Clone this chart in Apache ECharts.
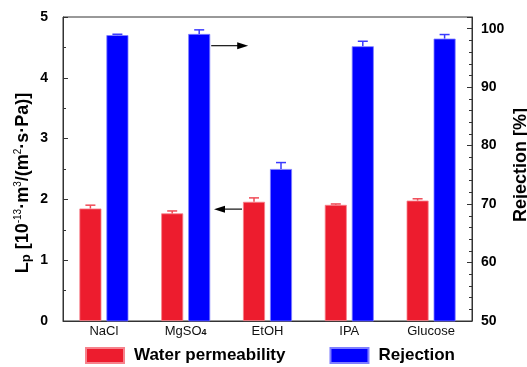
<!DOCTYPE html>
<html>
<head>
<meta charset="utf-8">
<script src="https://cdn.jsdelivr.net/npm/echarts@6/dist/echarts.min.js"></script>
<style>html,body{margin:0;padding:0;background:#fff}#c{width:527px;height:367px}</style>
</head>
<body>
<div id="c"></div>
<script>
var categories = ['NaCl', 'MgSO4', 'EtOH', 'IPA', 'Glucose'];
var permeability = [1.85, 1.77, 1.96, 1.91, 1.98];
var permeabilityErr = [0.055, 0.04, 0.065, 0.015, 0.03];
var rejection = [98.9, 99.1, 76.0, 97.0, 98.3];
var rejectionErr = [0.15, 0.7, 1.1, 0.85, 0.7];
var leftTicks = [0, 1, 2, 3, 4, 5];
var rightTicks = [50, 60, 70, 80, 90, 100];
var arrowRight = {cat: 1, value: 97.1};
var arrowLeft = {cat: 2, value: 1.84};

var RED = '#ed1c2e', BLUE = '#0000ff';
var BW = 22, GAP = 5, OFF = (BW + GAP) / 2;
var FONT = 'Liberation Sans, Arial';

function errItem(offset, color) {
  return function (params, api) {
    var i = api.value(0), v = api.value(1), e = api.value(2);
    var top = api.coord([i, v + e]);
    var base = api.coord([i, v]);
    var x = top[0] + offset;
    return {
      type: 'group',
      children: [
        {type: 'line', shape: {x1: x, y1: base[1], x2: x, y2: top[1]}, style: {stroke: color, lineWidth: 1.5}},
        {type: 'line', shape: {x1: x - 5, y1: top[1], x2: x + 5, y2: top[1]}, style: {stroke: color, lineWidth: 1.5}}
      ]
    };
  };
}

var chart = echarts.init(document.getElementById('c'), null, {renderer: 'canvas'});
var axisCommon = {
  axisLine: {show: true, lineStyle: {color: '#333', width: 1}},
  axisTick: {show: true, inside: true, length: 5, lineStyle: {color: '#333'}},
  splitLine: {show: false},
  nameMoveOverlap: false
};
chart.setOption({
  animation: false,
  backgroundColor: '#fff',
  grid: {left: 63, right: 55, top: 17, bottom: 46, show: true, borderColor: '#333', borderWidth: 1,
    containLabel: false, outerBoundsMode: 'none'},
  legend: {
    left: 85, top: 347, padding: 0, itemWidth: 38, itemHeight: 15, itemGap: 44,
    icon: 'rect',
    textStyle: {fontFamily: FONT, fontWeight: 'bold', fontSize: 17, color: '#000', padding: [0, 0, 0, 5]},
    data: ['Water permeability', 'Rejection']
  },
  xAxis: {
    type: 'category', data: categories,
    axisLine: {lineStyle: {color: '#333'}},
    axisTick: {show: false},
    axisLabel: {
      interval: 0,
      color: '#111', fontFamily: FONT, fontSize: 13, margin: 4,
      formatter: function (v) { return v === 'MgSO4' ? 'MgSO{s|4}' : v; },
      rich: {s: {fontSize: 9, fontWeight: 'bold', color: '#111', padding: [3, 0, 0, 0], fontFamily: FONT}}
    }
  },
  yAxis: [
    Object.assign({}, axisCommon, {
      type: 'value', min: leftTicks[0], max: leftTicks[leftTicks.length - 1], interval: 1,
      minorTick: {show: true, splitNumber: 2, length: 3, lineStyle: {color: '#333'}},
      name: 'L{sub|p} [10{sup|-13}·m{sup|3}/(m{sup|2}·s·Pa)]',
      nameLocation: 'middle', nameGap: 30, nameRotate: 90,
      nameTextStyle: {
        fontFamily: FONT, fontWeight: 'bold', fontSize: 18, color: '#000', padding: [0, 28, 0, 0],
        rich: {
          sub: {fontSize: 13, fontWeight: 'bold', color: '#000', padding: [7, 0, 0, 0], fontFamily: FONT},
          sup: {fontSize: 10, fontWeight: 'normal', color: '#000', padding: [0, 0, 9, 0], fontFamily: FONT}
        }
      },
      axisLabel: {color: '#000', fontFamily: FONT, fontWeight: 'bold', fontSize: 14, margin: 15}
    }),
    Object.assign({}, axisCommon, {
      type: 'value', min: rightTicks[0], max: 102, interval: 10,
      minorTick: {show: true, splitNumber: 5, length: 3, lineStyle: {color: '#333'}},
      name: 'Rejection [%]', nameLocation: 'middle', nameGap: 40, nameRotate: 90,
      nameTextStyle: {fontFamily: FONT, fontWeight: 'bold', fontSize: 18, color: '#000', padding: [0, 0, 0, 8]},
      axisLabel: {color: '#000', fontFamily: FONT, fontWeight: 'bold', fontSize: 14, margin: 9, showMaxLabel: false,
        formatter: function (v) { return rightTicks.indexOf(v) >= 0 ? String(v) : ''; }}
    })
  ],
  series: [
    {name: 'Water permeability', type: 'bar', data: permeability, yAxisIndex: 0, barWidth: BW, barGap: (GAP / BW * 100) + '%',
      itemStyle: {color: RED, borderColor: '#f6828c', borderWidth: 0.8}},
    {name: 'Rejection', type: 'bar', data: rejection, yAxisIndex: 1, barWidth: BW,
      itemStyle: {color: BLUE, borderColor: '#7f7fff', borderWidth: 0.8}},
    {type: 'custom', yAxisIndex: 0, renderItem: errItem(-OFF, '#f04a56'), z: 3,
      data: permeability.map(function (v, i) { return [i, v, permeabilityErr[i]]; })},
    {type: 'custom', yAxisIndex: 1, renderItem: errItem(OFF, '#3a3aff'), z: 3,
      data: rejection.map(function (v, i) { return [i, v, rejectionErr[i]]; })}
  ]
});

function drawArrows() {
  var cx1 = chart.convertToPixel({xAxisIndex: 0}, categories[arrowRight.cat]);
  var y1 = chart.convertToPixel({yAxisIndex: 1}, arrowRight.value);
  var cx2 = chart.convertToPixel({xAxisIndex: 0}, categories[arrowLeft.cat]);
  var y2 = chart.convertToPixel({yAxisIndex: 0}, arrowLeft.value);
  var a1s = cx1 + OFF + BW / 2 + 1, a1e = a1s + 37;
  var a2s = cx2 - OFF - BW / 2 - 1, a2e = a2s - 28;
  chart.setOption({
    graphic: [
      {type: 'line', shape: {x1: a1s, y1: y1, x2: a1e - 8, y2: y1}, style: {stroke: '#222', lineWidth: 1.3}, z: 10},
      {type: 'polygon', shape: {points: [[a1e, y1], [a1e - 11, y1 - 3.5], [a1e - 11, y1 + 3.5]]}, style: {fill: '#000'}, z: 10},
      {type: 'line', shape: {x1: a2s, y1: y2, x2: a2e + 8, y2: y2}, style: {stroke: '#222', lineWidth: 1.3}, z: 10},
      {type: 'polygon', shape: {points: [[a2e, y2], [a2e + 11, y2 - 3.5], [a2e + 11, y2 + 3.5]]}, style: {fill: '#000'}, z: 10}
    ]
  });
}
drawArrows();
</script>
</body>
</html>
